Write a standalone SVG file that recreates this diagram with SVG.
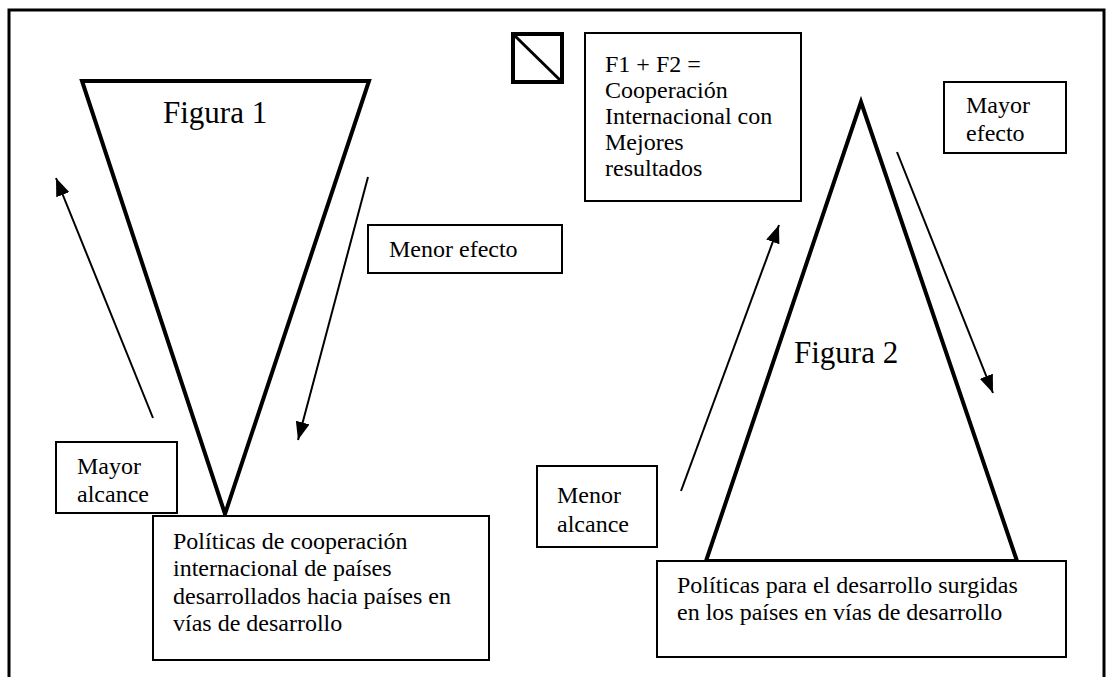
<svg xmlns="http://www.w3.org/2000/svg" width="1108" height="677" viewBox="0 0 1108 677">
<style>
.t{font-family:"Liberation Serif","Times New Roman",serif;font-size:24px;fill:#000}
.fig{font-family:"Liberation Serif","Times New Roman",serif;font-size:31px;fill:#000}
.box{fill:#fff;stroke:#000;stroke-width:2}
.tri{fill:none;stroke:#000;stroke-width:4;stroke-linejoin:miter}
.arr{fill:none;stroke:#000;stroke-width:2;marker-end:url(#ah)}
</style>
<defs>
<marker id="ah" markerUnits="userSpaceOnUse" markerWidth="20" markerHeight="14" refX="18" refY="7" orient="auto">
<path d="M0,0 L18,7 L0,14 z" fill="#000"/>
</marker>
</defs>
<rect width="1108" height="677" fill="#fff"/>
<g id="frame">
<path d="M9,677 V10 H1104 V677" fill="none" stroke="#000" stroke-width="3"/>
</g>
<g id="figura1">
<path class="tri" d="M82,81 L369,81 L225,514 Z"/>
<text class="fig" x="163" y="123">Figura 1</text>
</g>
<g id="figura2">
<path class="tri" d="M861,102 L1017,561 L706,561 Z"/>
<text class="fig" x="794" y="363">Figura 2</text>
</g>
<g id="connectors">
<line class="arr" x1="153" y1="418" x2="56" y2="178"/>
<line class="arr" x1="368" y1="177" x2="298" y2="440"/>
<line class="arr" x1="681" y1="491" x2="779" y2="225"/>
<line class="arr" x1="897" y1="152" x2="993" y2="393"/>
</g>
<g id="simbolo">
<rect x="513" y="34" width="49" height="48" fill="#fff" stroke="#000" stroke-width="4"/>
<line x1="513" y1="34" x2="562" y2="82" stroke="#000" stroke-width="3"/>
</g>
<g id="f1f2">
<rect class="box" x="585" y="33" width="216" height="168"/>
<text class="t"><tspan x="605" y="72">F1 + F2 =</tspan><tspan x="605" y="98">Cooperación</tspan><tspan x="605" y="124">Internacional con</tspan><tspan x="605" y="150">Mejores</tspan><tspan x="605" y="176">resultados</tspan></text>
</g>
<g id="mayor-efecto">
<rect class="box" x="944" y="82" width="122" height="71"/>
<text class="t"><tspan x="966" y="113">Mayor</tspan><tspan x="966" y="141">efecto</tspan></text>
</g>
<g id="menor-efecto">
<rect class="box" x="368" y="225" width="194" height="48"/>
<text class="t" x="389" y="257">Menor efecto</text>
</g>
<g id="mayor-alcance">
<rect class="box" x="56" y="442" width="121" height="71"/>
<text class="t"><tspan x="77" y="474">Mayor</tspan><tspan x="77" y="502">alcance</tspan></text>
</g>
<g id="menor-alcance">
<rect class="box" x="537" y="466" width="120" height="81"/>
<text class="t"><tspan x="557" y="503">Menor</tspan><tspan x="557" y="532">alcance</tspan></text>
</g>
<g id="politicas-coop">
<rect class="box" x="153" y="516" width="336" height="144"/>
<text class="t"><tspan x="173" y="549">Políticas de cooperación</tspan><tspan x="173" y="576">internacional de países</tspan><tspan x="173" y="604">desarrollados hacia países en</tspan><tspan x="173" y="631">vías de desarrollo</tspan></text>
</g>
<g id="politicas-desarrollo">
<rect class="box" x="657" y="561" width="409" height="96"/>
<text class="t"><tspan x="677" y="593">Políticas para el desarrollo surgidas</tspan><tspan x="677" y="620">en los países en vías de desarrollo</tspan></text>
</g>
</svg>
